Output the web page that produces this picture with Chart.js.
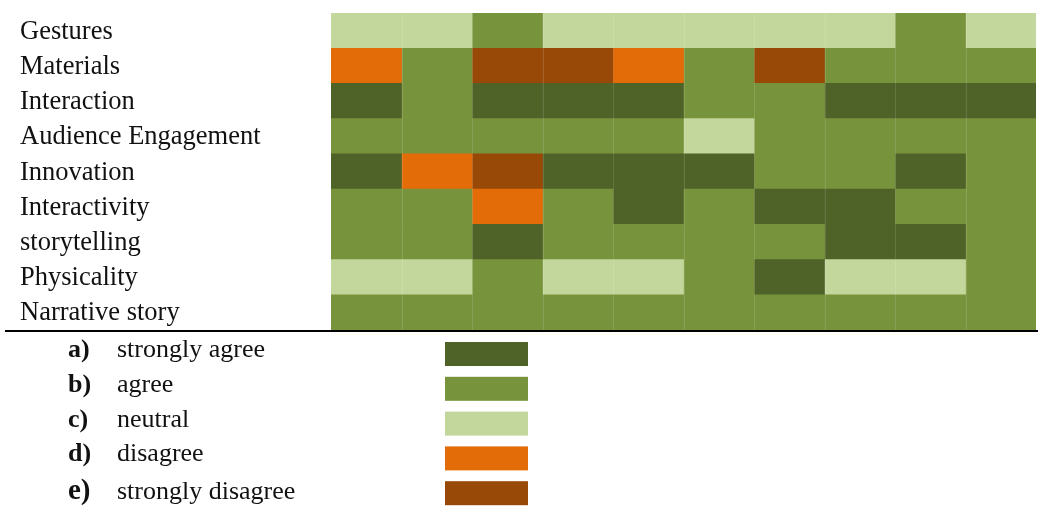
<!DOCTYPE html>
<html>
<head>
<meta charset="utf-8">
<style>
  html, body { margin: 0; padding: 0; background: #ffffff; }
  canvas { display: block; }
</style>
<script src="https://cdn.jsdelivr.net/npm/chart.js@4/dist/chart.umd.min.js"></script>
</head>
<body>
<canvas id="heat" width="1038" height="509"></canvas>
<script>
// Survey items (rows, top to bottom)
const categories = ['Gestures', 'Materials', 'Interaction', 'Audience Engagement', 'Innovation',
                    'Interactivity', 'storytelling', 'Physicality', 'Narrative story'];

// Response scale: 1 = strongly agree ... 5 = strongly disagree
const levels = ['strongly agree', 'agree', 'neutral', 'disagree', 'strongly disagree'];
const levelKeys = ['a)', 'b)', 'c)', 'd)', 'e)'];

// One answer per respondent (10 respondents, left to right) for each item
const gestures           = [3, 3, 2, 3, 3, 3, 3, 3, 2, 3];
const materials          = [4, 2, 5, 5, 4, 2, 5, 2, 2, 2];
const interaction        = [1, 2, 1, 1, 1, 2, 2, 1, 1, 1];
const audienceEngagement = [2, 2, 2, 2, 2, 3, 2, 2, 2, 2];
const innovation         = [1, 4, 5, 1, 1, 1, 2, 2, 1, 2];
const interactivity      = [2, 2, 4, 2, 1, 2, 1, 1, 2, 2];
const storytelling       = [2, 2, 1, 2, 2, 2, 2, 1, 1, 2];
const physicality        = [3, 3, 2, 3, 3, 2, 1, 3, 3, 2];
const narrativeStory     = [2, 2, 2, 2, 2, 2, 2, 2, 2, 2];

const rows = [gestures, materials, interaction, audienceEngagement, innovation,
              interactivity, storytelling, physicality, narrativeStory];

const levelColors = ['#4F6228', '#77933C', '#C3D69B', '#E36C09', '#984807'];
const respondents = gestures.length;

// Each respondent is one stacked unit-wide segment per item, coloured by the answer
const datasets = [];
for (let j = 0; j < respondents; j++) {
  datasets.push({
    label: 'Respondent ' + (j + 1),
    data: rows.map(() => 1),
    backgroundColor: rows.map(r => levelColors[r[j] - 1]),
    borderWidth: 0,
    barPercentage: 1,
    categoryPercentage: 1
  });
}

const SERIF = '"Liberation Serif", "Times New Roman", serif';

const decorations = {
  id: 'decorations',
  afterDatasetsDraw(chart) {
    const { ctx, chartArea, scales } = chart;
    ctx.save();
    // faint seams between respondents
    ctx.strokeStyle = 'rgba(255,255,255,0.13)';
    ctx.lineWidth = 1;
    for (let j = 1; j < respondents; j++) {
      const x = Math.round(scales.x.getPixelForValue(j)) + 0.5;
      ctx.beginPath();
      ctx.moveTo(x, chartArea.top);
      ctx.lineTo(x, chartArea.bottom);
      ctx.stroke();
    }
    // baseline rule under the grid
    ctx.strokeStyle = '#000';
    ctx.lineWidth = 2;
    ctx.beginPath();
    ctx.moveTo(5, chartArea.bottom + 1);
    ctx.lineTo(chart.width, chartArea.bottom + 1);
    ctx.stroke();
    ctx.restore();
  },
  afterDraw(chart) {
    const { ctx, scales } = chart;
    ctx.save();
    ctx.fillStyle = '#111';
    ctx.textAlign = 'left';
    ctx.textBaseline = 'alphabetic';
    // item labels
    ctx.font = '26.5px ' + SERIF;
    categories.forEach((c, i) => {
      const y = scales.y.getPixelForValue(i);
      ctx.fillText(c, 20, y + 8);
    });
    // legend of the response scale
    const top0 = chart.chartArea.bottom + 12;
    levels.forEach((name, i) => {
      const top = top0 + i * 34.8;
      const big = i === levels.length - 1;
      ctx.fillStyle = '#111';
      ctx.font = 'bold ' + (big ? 29 : 26) + 'px ' + SERIF;
      ctx.fillText(levelKeys[i], 68, top + (big ? 18 : 15));
      ctx.font = '26px ' + SERIF;
      ctx.fillText(name, 117, top + (big ? 18 : 15));
      ctx.fillStyle = levelColors[i];
      ctx.fillRect(445, top, 83, 24);
    });
    ctx.restore();
  }
};

new Chart(document.getElementById('heat'), {
  type: 'bar',
  data: { labels: categories, datasets },
  options: {
    indexAxis: 'y',
    responsive: false,
    devicePixelRatio: 1,
    animation: false,
    layout: { padding: { left: 331, top: 13, right: 2, bottom: 179 } },
    plugins: { legend: { display: false }, tooltip: { enabled: false } },
    scales: {
      x: { stacked: true, min: 0, max: respondents, display: false },
      y: { stacked: true, display: false }
    }
  },
  plugins: [decorations]
});
</script>
</body>
</html>
